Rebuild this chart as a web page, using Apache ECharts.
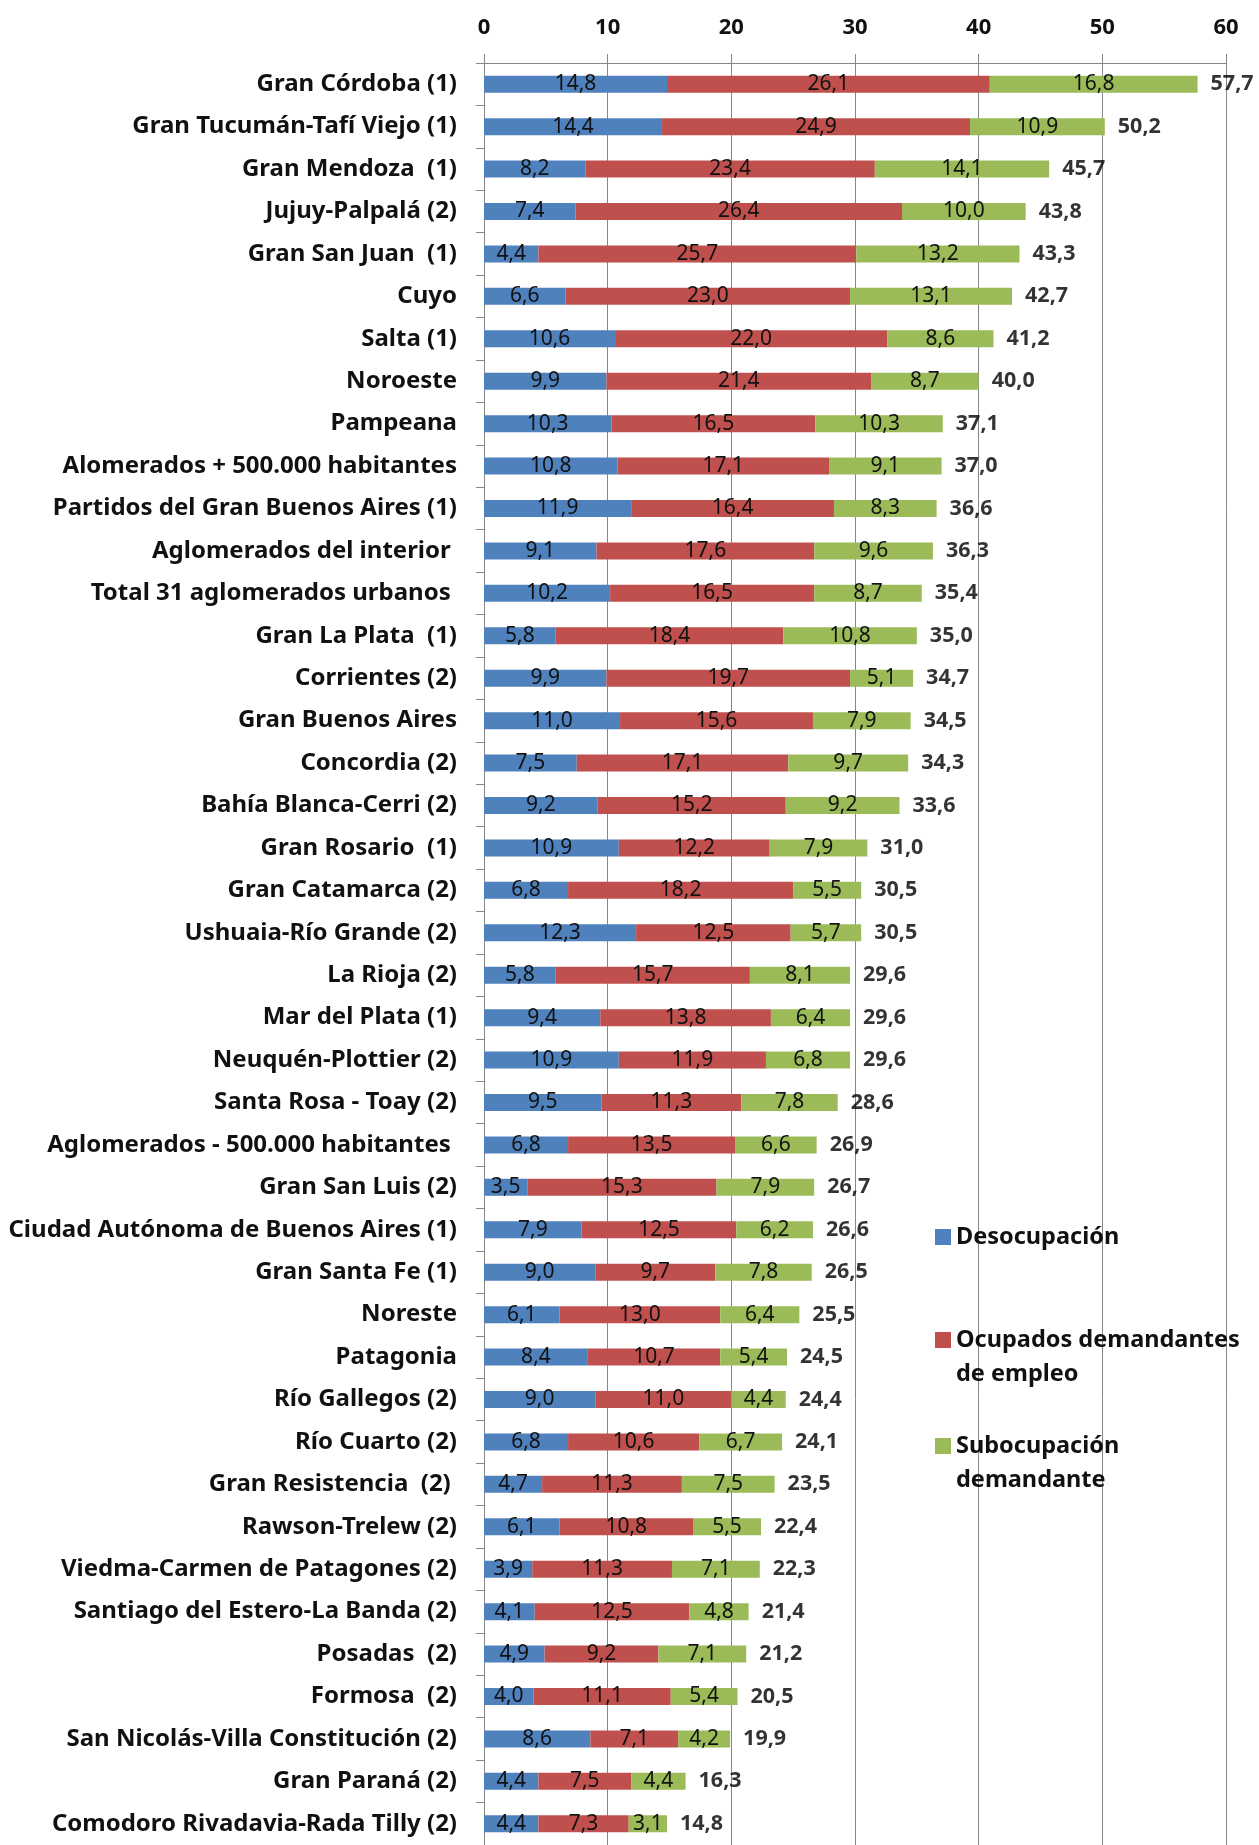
<!DOCTYPE html>
<html>
<head>
<meta charset="utf-8">
<script src="https://cdn.jsdelivr.net/npm/echarts@6/dist/echarts.min.js"></script>
<style>
html,body{margin:0;padding:0;background:#fff;}
#chart{width:1259px;height:1845px;}
</style>
</head>
<body>
<div id="chart"></div>
<script>
const categories = [
  "Gran Córdoba (1)","Gran Tucumán-Tafí Viejo (1)","Gran Mendoza  (1)","Jujuy-Palpalá (2)","Gran San Juan  (1)",
  "Cuyo","Salta (1)","Noroeste","Pampeana","Alomerados + 500.000 habitantes",
  "Partidos del Gran Buenos Aires (1)","Aglomerados del interior ","Total 31 aglomerados urbanos ","Gran La Plata  (1)","Corrientes (2)",
  "Gran Buenos Aires","Concordia (2)","Bahía Blanca-Cerri (2)","Gran Rosario  (1)","Gran Catamarca (2)",
  "Ushuaia-Río Grande (2)","La Rioja (2)","Mar del Plata (1)","Neuquén-Plottier (2)","Santa Rosa - Toay (2)",
  "Aglomerados - 500.000 habitantes ","Gran San Luis (2)","Ciudad Autónoma de Buenos Aires (1)","Gran Santa Fe (1)","Noreste",
  "Patagonia","Río Gallegos (2)","Río Cuarto (2)","Gran Resistencia  (2) ","Rawson-Trelew (2)",
  "Viedma-Carmen de Patagones (2)","Santiago del Estero-La Banda (2)","Posadas  (2)","Formosa  (2)","San Nicolás-Villa Constitución (2)",
  "Gran Paraná (2)","Comodoro Rivadavia-Rada Tilly (2)"
];
const desocupacion = [14.8,14.4,8.2,7.4,4.4,6.6,10.6,9.9,10.3,10.8,11.9,9.1,10.2,5.8,9.9,11.0,7.5,9.2,10.9,6.8,12.3,5.8,9.4,10.9,9.5,6.8,3.5,7.9,9.0,6.1,8.4,9.0,6.8,4.7,6.1,3.9,4.1,4.9,4.0,8.6,4.4,4.4];
const ocupadosDemandantes = [26.1,24.9,23.4,26.4,25.7,23.0,22.0,21.4,16.5,17.1,16.4,17.6,16.5,18.4,19.7,15.6,17.1,15.2,12.2,18.2,12.5,15.7,13.8,11.9,11.3,13.5,15.3,12.5,9.7,13.0,10.7,11.0,10.6,11.3,10.8,11.3,12.5,9.2,11.1,7.1,7.5,7.3];
const subocupacion = [16.8,10.9,14.1,10.0,13.2,13.1,8.6,8.7,10.3,9.1,8.3,9.6,8.7,10.8,5.1,7.9,9.7,9.2,7.9,5.5,5.7,8.1,6.4,6.8,7.8,6.6,7.9,6.2,7.8,6.4,5.4,4.4,6.7,7.5,5.5,7.1,4.8,7.1,5.4,4.2,4.4,3.1];
const totals = [57.7,50.2,45.7,43.8,43.3,42.7,41.2,40.0,37.1,37.0,36.6,36.3,35.4,35.0,34.7,34.5,34.3,33.6,31.0,30.5,30.5,29.6,29.6,29.6,28.6,26.9,26.7,26.6,26.5,25.5,24.5,24.4,24.1,23.5,22.4,22.3,21.4,21.2,20.5,19.9,16.3,14.8];
const xTicks = {min:0, max:60, interval:10};
const seriesNames = ["Desocupación","Ocupados demandantes de empleo","Subocupación demandante"];
const legendLabels = ["Desocupación","\nOcupados demandantes\nde empleo","\nSubocupación\ndemandante"];

const FONT = "'Noto Sans', 'DejaVu Sans', sans-serif";
const fmt = v => Number(v).toFixed(1).replace('.', ',');
const colors = ["#4F81BD","#C0504D","#9BBB59"];

function barSeries(name, data, color){
  return {
    name: name, type: 'bar', stack: 'total', data: data,
    barWidth: 17,
    itemStyle: {color: color},
    label: {show: true, position: 'inside', formatter: p => fmt(p.value),
      color: '#111', fontFamily: FONT, fontSize: 21},
    labelLayout: {hideOverlap: false}
  };
}

const chart = echarts.init(document.getElementById('chart'), null, {renderer:'canvas'});
const legendText = {fontFamily: FONT, fontSize: 23.5, fontWeight: 'bold', color: '#111', lineHeight: 34};
function legendFor(i, top){
  return {data: [seriesNames[i]], orient: 'vertical', left: 930, top: top, itemWidth: 16, itemHeight: 16,
    itemGap: 0, icon: 'rect', formatter: () => legendLabels[i], textStyle: legendText};
}
chart.setOption({
  animation: false,
  backgroundColor: '#fff',
  grid: {left: 484, right: 33, top: 63, bottom: -8, containLabel: false},
  xAxis: {
    type: 'value', position: 'top', min: xTicks.min, max: xTicks.max, interval: xTicks.interval,
    axisLine: {show: true, lineStyle: {color: '#868686', width: 1}},
    axisTick: {show: true, length: 9, lineStyle: {color: '#868686'}},
    splitLine: {show: true, lineStyle: {color: '#868686', width: 1}},
    axisLabel: {margin: 24, fontFamily: FONT, fontSize: 22, fontWeight: 'bold', color: '#111'}
  },
  yAxis: {
    type: 'category', data: categories, inverse: true,
    axisLine: {show: true, lineStyle: {color: '#868686'}},
    axisTick: {show: true, length: 8, lineStyle: {color: '#868686'}},
    axisLabel: {margin: 27, fontFamily: FONT, fontSize: 24, fontWeight: 'bold', color: '#111'}
  },
  legend: [legendFor(0, 1215), legendFor(1, 1284), legendFor(2, 1390)],
  series: [
    barSeries(seriesNames[0], desocupacion, colors[0]),
    barSeries(seriesNames[1], ocupadosDemandantes, colors[1]),
    barSeries(seriesNames[2], subocupacion, colors[2]),
    {
      name: 'Total', type: 'scatter', symbolSize: 0, silent: true,
      data: totals.map((t, i) => [t, categories[i]]),
      label: {show: true, position: 'right', distance: 13, formatter: p => fmt(p.value[0]),
        fontFamily: FONT, fontSize: 21.5, fontWeight: 'bold', color: '#000'}
    }
  ]
});
</script>
</body>
</html>
